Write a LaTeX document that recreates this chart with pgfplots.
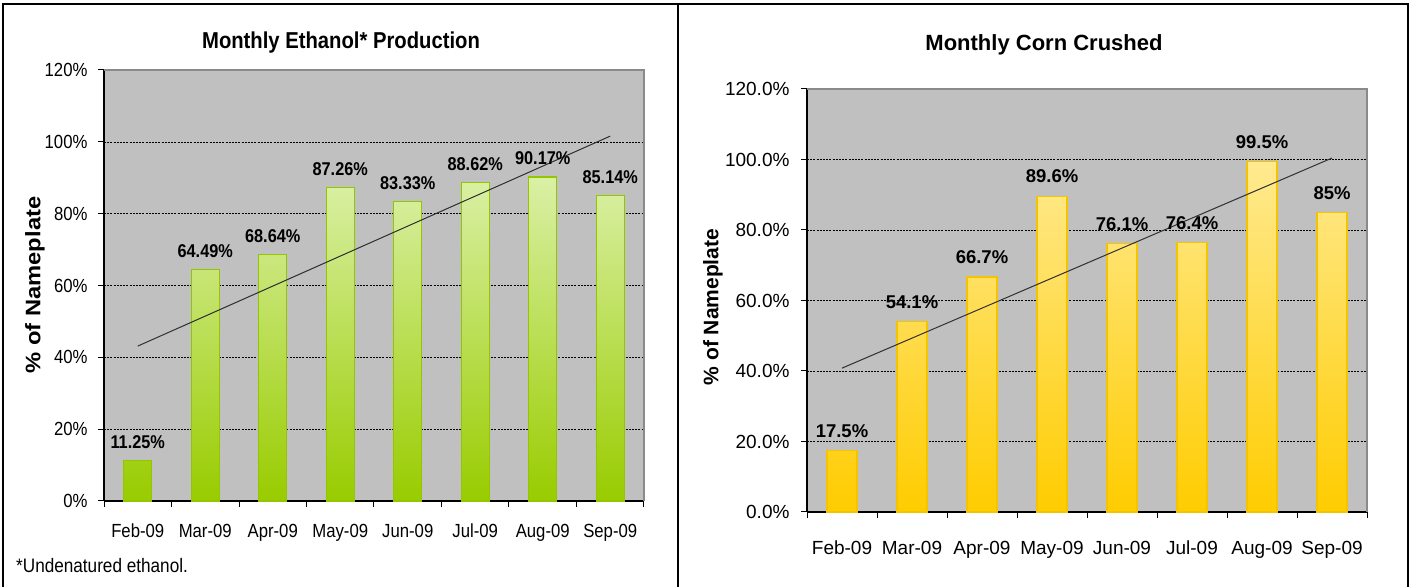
\documentclass[border=0pt]{standalone}
\usepackage{pgfplots}
\pgfplotsset{compat=1.18}
\usepackage{fontspec}
\setmainfont{Liberation Sans}
\newfontfamily\lfont{Liberation Sans}[FakeStretch=0.88]
\newfontfamily\lvfont{Liberation Sans}[FakeStretch=1.13]
\newfontfamily\rfont{Liberation Sans}
\definecolor{plotbg}{HTML}{C0C0C0}
\definecolor{bordergray}{HTML}{8A8A8A}
\definecolor{lgtop}{HTML}{DAF0A6}
\definecolor{lgbot}{HTML}{99CC00}
\definecolor{lgbord}{HTML}{94C600}
\definecolor{ytop}{HTML}{FFEA90}
\definecolor{ybot}{HTML}{FFCC00}
\definecolor{ybord}{HTML}{F5C400}
\definecolor{trend}{HTML}{303030}
\pgfplotsset{
  mybase/.style={
    scale only axis,
    xmin=-0.5, xmax=7.5, ymin=0, ymax=120,
    ytick={0,20,...,120},
    xtick={-0.5,0.5,...,7.5}, xticklabels={},
    extra x ticks={0,1,2,3,4,5,6,7},
    extra x tick labels={Feb-09,Mar-09,Apr-09,May-09,Jun-09,Jul-09,Aug-09,Sep-09},
    extra x tick style={major tick length=0pt},
    axis x line*=bottom, axis y line*=left,
    axis line style={black, line width=1.3pt, -},
    tick style={black, line width=1pt},
    major tick length=6pt,
    tick align=outside,
    ymajorgrids,
    grid style={black, line width=0.6pt, dash pattern=on 2pt off 1.2pt},
    axis background/.style={fill=plotbg},
    /pgf/number format/assume math mode=true,
    clip=false,
  }
}
\begin{document}
\begin{tikzpicture}[x=1pt,y=1pt]
\useasboundingbox (0,0) rectangle (1410,586);
\fill[white] (0,0) rectangle (1410,586);
\draw[line width=1.5pt] (3,-5) -- (3,582) -- (1408,582) -- (1408,-5);
\draw[line width=1.5pt] (678,-5) -- (678,582);

% ---------- Left chart ----------
\begin{axis}[mybase,
  at={(104pt,85pt)}, anchor=south west,
  width=540pt, height=431pt,
  yticklabel={\pgfmathprintnumber{\tick}\%},
  yticklabel style={font=\lfont\fontsize{19}{22}\selectfont, xshift=-7pt},
  xticklabel style={font=\lfont\fontsize{19}{22}\selectfont, anchor=base, yshift=-37pt},
]
\addplot[ybar, bar width=28pt, draw=lgbord, line width=1.3pt,
  top color=lgtop, bottom color=lgbot,
  nodes near coords, point meta=explicit symbolic,
  every node near coord/.append style={font=\lfont\bfseries\fontsize{18.5}{21}\selectfont, text=black, yshift=8pt}]
coordinates {(0,11.25)[11.25\%] (1,64.49)[64.49\%] (2,68.64)[68.64\%] (3,87.26)[87.26\%]
             (4,83.33)[83.33\%] (5,88.62)[88.62\%] (6,90.17)[90.17\%] (7,85.14)[85.14\%]};
\addplot[trend, line width=1pt, no marks] coordinates {(0,43.13) (7,101.59)};
\draw[bordergray, line width=2pt] (rel axis cs:0,1) -- (rel axis cs:1,1) -- (rel axis cs:1,0);
\end{axis}

% ---------- Right chart ----------
\begin{axis}[mybase,
  at={(807pt,74pt)}, anchor=south west,
  width=560pt, height=423pt,
  yticklabel={\pgfmathprintnumber[fixed,fixed zerofill,precision=1]{\tick}\%},
  yticklabel style={font=\rfont\fontsize{19}{22}\selectfont, xshift=-8pt},
  xticklabel style={font=\rfont\fontsize{19}{22}\selectfont, anchor=base, yshift=-42.5pt},
]
\addplot[ybar, bar width=30pt, draw=ybord, line width=1.3pt,
  top color=ytop, bottom color=ybot,
  nodes near coords, point meta=explicit symbolic,
  every node near coord/.append style={font=\rfont\bfseries\fontsize{18.5}{21}\selectfont, text=black, yshift=9pt}]
coordinates {(0,17.5)[17.5\%] (1,54.1)[54.1\%] (2,66.7)[66.7\%] (3,89.6)[89.6\%]
             (4,76.1)[76.1\%] (5,76.4)[76.4\%] (6,99.5)[99.5\%] (7,85)[85\%]};
\addplot[trend, line width=1pt, no marks] coordinates {(0,40.81) (7,100.41)};
\draw[bordergray, line width=2pt] (rel axis cs:0,1) -- (rel axis cs:1,1) -- (rel axis cs:1,0);
\end{axis}

% ---------- Titles, labels, footnote ----------
\node[font=\lfont\bfseries\fontsize{23}{26}\selectfont] at (341,543) {Monthly Ethanol* Production};
\node[font=\rfont\bfseries\fontsize{22}{26}\selectfont] at (1044,541) {Monthly Corn Crushed};
\node[rotate=90, font=\lvfont\bfseries\fontsize{21}{24}\selectfont] at (35,301) {\% of Nameplate};
\node[rotate=90, font=\rfont\bfseries\fontsize{21}{24}\selectfont] at (713,279) {\% of Nameplate};
\node[anchor=west, font=\lfont\fontsize{19.5}{22}\selectfont, inner sep=0pt] at (16,20) {*Undenatured ethanol.};
\end{tikzpicture}
\end{document}
